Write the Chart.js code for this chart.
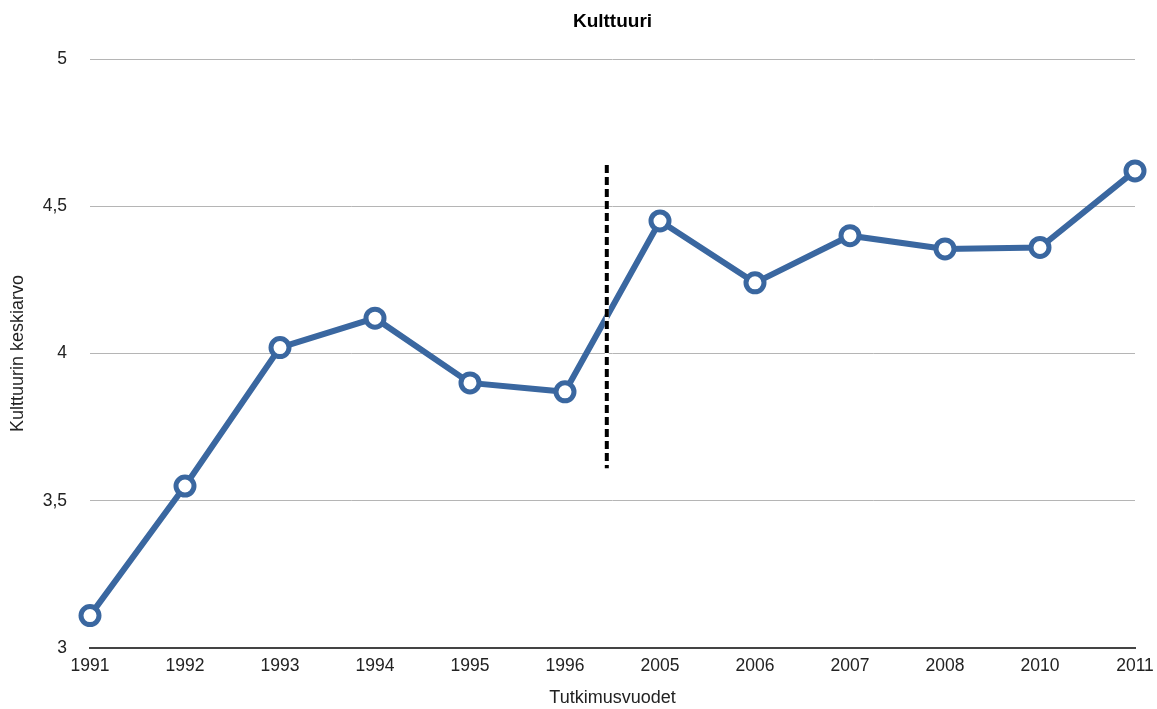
<!DOCTYPE html>
<html>
<head>
<meta charset="utf-8">
<script src="https://cdn.jsdelivr.net/npm/chart.js@4/dist/chart.umd.min.js"></script>
<style>
html,body{margin:0;padding:0;background:#fff;}
#wrap{width:1157px;height:709px;position:relative;}
</style>
</head>
<body>
<div id="wrap"><canvas id="c"></canvas></div>
<script>
const categories = ['1991','1992','1993','1994','1995','1996','2005','2006','2007','2008','2010','2011'];
const values = [3.11, 3.55, 4.02, 4.12, 3.90, 3.87, 4.45, 4.24, 4.40, 4.355, 4.36, 4.62];
const yTicks = [3, 3.5, 4, 4.5, 5];
const breakPosition = [5.44];      // between 1996 and 2005 (category index)
const breakRange = [3.61, 4.64];   // y extent of the dashed break line

const FONT = "'Liberation Sans', Arial, Helvetica, sans-serif";
const BLUE = '#3a67a0';

const breakLine = {
  id: 'breakLine',
  afterDatasetsDraw(chart) {
    const x = chart.scales.x.getPixelForValue(breakPosition[0]);
    const y1 = chart.scales.y.getPixelForValue(breakRange[1]);
    const y2 = chart.scales.y.getPixelForValue(breakRange[0]);
    const ctx = chart.ctx;
    ctx.save();
    ctx.lineWidth = 4;
    ctx.strokeStyle = '#ffffff';
    ctx.beginPath(); ctx.moveTo(x, y1); ctx.lineTo(x, y2); ctx.stroke();
    ctx.setLineDash([8, 4]);
    ctx.strokeStyle = '#000000';
    ctx.beginPath(); ctx.moveTo(x, y1); ctx.lineTo(x, y2); ctx.stroke();
    ctx.restore();
  }
};

new Chart(document.getElementById('c'), {
  type: 'line',
  data: {
    labels: categories,
    datasets: [{
      data: values,
      borderColor: BLUE,
      borderWidth: 6,
      backgroundColor: '#ffffff',
      pointBackgroundColor: '#ffffff',
      pointBorderColor: BLUE,
      pointBorderWidth: 5,
      pointRadius: 9,
      tension: 0,
      clip: false
    }]
  },
  options: {
    responsive: true,
    maintainAspectRatio: false,
    animation: false,
    layout: { padding: { left: 0, right: 0, top: 0, bottom: 0 } },
    plugins: {
      legend: { display: false },
      tooltip: { enabled: false },
      title: {
        display: true,
        fullSize: false,
        text: 'Kulttuuri',
        color: '#000',
        font: { family: FONT, size: 19, weight: 'bold' },
        padding: { top: 10.6, bottom: 25.6 }
      }
    },
    scales: {
      x: {
        offset: false,
        grid: { display: false, drawTicks: false },
        border: { display: true, color: '#444', width: 2 },
        ticks: { color: '#222', font: { family: FONT, size: 17.5 }, padding: 8, maxRotation: 0, autoSkip: false },
        title: { display: true, text: 'Tutkimusvuodet', color: '#222', font: { family: FONT, size: 18 }, padding: { top: 0, bottom: 0 } },
        afterFit(scale) { scale.height = 61; scale.paddingRight = 22; scale.paddingLeft = 0; }
      },
      y: {
        min: 3, max: 5,
        afterBuildTicks(scale) { scale.ticks = yTicks.map(v => ({ value: v })); },
        grid: { color: '#b5b5b5', lineWidth: 1, drawTicks: false },
        border: { display: false },
        ticks: {
          color: '#222',
          font: { family: FONT, size: 17.5 },
          padding: 23,
          callback: v => String(v).replace('.', ',')
        },
        title: { display: true, text: 'Kulttuurin keskiarvo', color: '#222', font: { family: FONT, size: 18 }, padding: { top: 7, bottom: 0 } },
        afterFit(scale) { scale.width = 90; }
      }
    }
  },
  plugins: [breakLine]
});
</script>
</body>
</html>
